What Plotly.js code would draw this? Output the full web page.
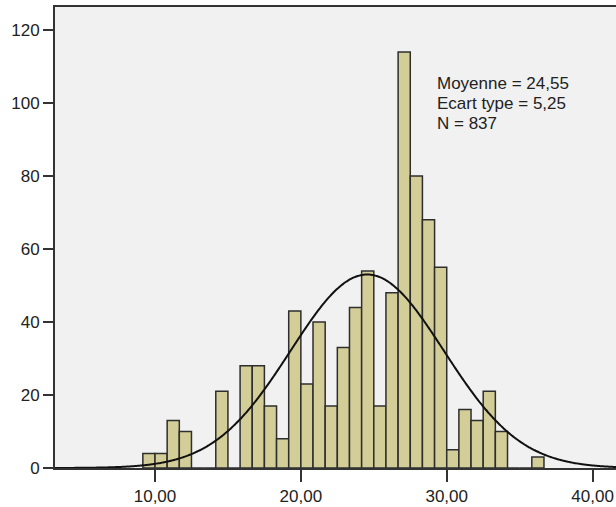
<!DOCTYPE html>
<html>
<head>
<meta charset="utf-8">
<script src="https://cdn.plot.ly/plotly-3.0.1.min.js"></script>
<style>
html, body { margin: 0; padding: 0; overflow: hidden; background: #ffffff; }
#chart { width: 640px; height: 507px; }
</style>
</head>
<body>
<div id="chart"></div>
<script>
// Histogram bins: start and width (bins of 5/6 unit)
const binStart = 55 / 6;
const binWidth = 5 / 6;
// Frequencies per bin (33 bins)
const counts = [4, 4, 13, 10, 0, 0, 21, 0, 28, 28, 17, 8, 43, 23, 40, 17, 33, 44, 54, 17, 48, 114, 80, 68, 55, 5, 16, 13, 21, 10, 0, 0, 3];
// Summary statistics shown on the chart
const mean = 24.55;
const sd = 5.25;
const n = 837;
const statLines = ["Moyenne = 24,55", "Ecart type = 5,25", "N = 837"];
// Axis ticks
const xTickVals = [10, 20, 30, 40];
const xTickText = ["10,00", "20,00", "30,00", "40,00"];
const yTickVals = [0, 20, 40, 60, 80, 100, 120];

const binCenters = counts.map((c, i) => binStart + (i + 0.5) * binWidth);

// Normal curve fitted with the stated mean / sd / N
const curveX = [];
const curveY = [];
for (let x = 3; x <= 44; x += 0.1) {
  curveX.push(x);
  const z = (x - mean) / sd;
  curveY.push(n * binWidth / (sd * Math.sqrt(2 * Math.PI)) * Math.exp(-0.5 * z * z));
}

const traces = [
  {
    type: 'bar',
    x: binCenters,
    y: counts,
    width: binWidth,
    marker: { color: '#D3CE97', line: { color: '#2e2e2e', width: 1.5 } },
    hoverinfo: 'x+y'
  },
  {
    type: 'scatter',
    mode: 'lines',
    x: curveX,
    y: curveY,
    line: { color: '#111111', width: 2, shape: 'spline' },
    hoverinfo: 'skip'
  }
];

const annotations = statLines.map((t, i) => ({
  xref: 'paper', yref: 'paper',
  x: (435 - 55) / 585, y: 1 - (72 + i * 20 - 7) / 461,
  xanchor: 'left', yanchor: 'top',
  text: t, showarrow: false,
  font: { family: 'Liberation Sans, Arial, sans-serif', size: 17, color: '#222222' },
  align: 'left'
}));

const layout = {
  width: 640,
  height: 507,
  margin: { l: 55, r: 0, t: 7, b: 39 },
  paper_bgcolor: '#ffffff',
  plot_bgcolor: '#F0F1F0',
  showlegend: false,
  bargap: 0,
  font: { family: 'Liberation Sans, Arial, sans-serif', size: 17, color: '#222222' },
  xaxis: {
    range: [3.144, 43.25],
    tickmode: 'array',
    tickvals: xTickVals,
    ticktext: xTickText,
    ticks: 'outside',
    ticklen: 12,
    tickwidth: 2,
    tickcolor: '#333333',
    showline: true,
    linecolor: '#333333',
    linewidth: 2,
    mirror: true,
    showgrid: false,
    zeroline: false,
    tickfont: { size: 17, color: '#222222' }
  },
  yaxis: {
    range: [0, 126.3],
    tickmode: 'array',
    tickvals: yTickVals,
    ticks: 'outside',
    ticklen: 10,
    tickwidth: 2,
    tickcolor: '#333333',
    showline: true,
    linecolor: '#333333',
    linewidth: 2,
    mirror: true,
    showgrid: false,
    zeroline: false,
    tickfont: { size: 17, color: '#222222' }
  },
  annotations: annotations
};

Plotly.newPlot('chart', traces, layout, { displayModeBar: false, staticPlot: true });
</script>
</body>
</html>
